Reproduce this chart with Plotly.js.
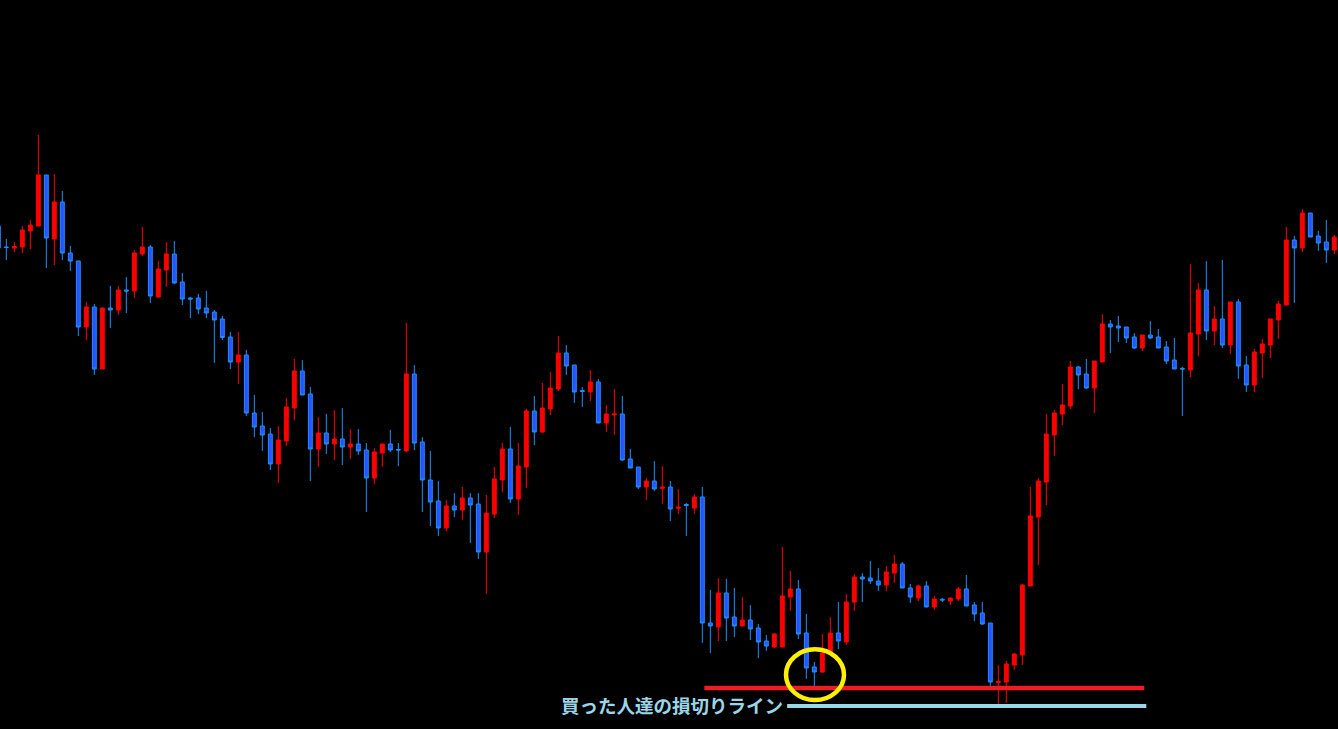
<!DOCTYPE html>
<html>
<head>
<meta charset="utf-8">
<script src="https://cdn.plot.ly/plotly-3.0.1.min.js"></script>
<style>
  html, body { margin: 0; padding: 0; background: #000; }
  #chart { width: 1338px; height: 729px; }
</style>
</head>
<body>
<div id="chart"></div>
<script>
// OHLC values (arbitrary price units)
const openP = [
  503,482,481,482,498,503,554,490,527,476,468,402,422,360,421,419,439,438,475,482,
  432,459,475,447,431,431,421,417,410,392,367,374,316,303,295,265,288,321,358,335,
  280,296,285,290,282,285,279,251,276,285,279.5,278,355,287,249,228,201,223,219,231,
  225,177,215,249,280,230,262,318,297,320,340,376,364,338.5,337,347,306,314,315,270,
  262,242,248,240.7,242,220.7,224.5,221,232,106,102,136,112,103,109,101,88,82,82,132,
  140,96,62,57,76,96,87,127,152,151,148,144,156,165,141,131,143,122,129.7,128,
  130,140,124,116,106,46.5,47,64,74,143,212,247,294,315,323,362,355,341,367,405,
  403,402,392,381,394,392,382,369,360.7,359,395,439,398,410,384,427,364,344,376,384,
  409,424,489,481,516,493,487,479
];
const highP = [
  505,490,487,503,509,594,554,555,538,483,468,427,425,421,443,443,452,479,502,484,
  468,487,488,456,432,435,438,419,413,397,397,379,334,317,301,303,331,370,369,342,
  312,315,319,321,300,300,286,281,285,299,286,406,364,292,278,248,229,236,242,236,
  236,234,262,286,302,286,320,333,346,357,393,384,364,342,359,350,324,340,333,280,
  262,251,268,263,248,240,226,235,242,139,151,150,141,132,124,105,94,96,182,158,
  149,115,67,95,112,127,135,155,156,168,161,163,174,167,145,144,148,133,131,131,
  142,154,127,127,106,64,68,76,145,242,251,315,319,345,368,363,370,368,415,409,
  413,402,396,394,408,400,388,391,362,465,446,468,423,469,427,430,373,380,390,410,
  428,502,493,520,516,498,509,494
];
const lowP = [
  479,469,477,476,480,503,461,464,469,458,393,389,354,360,401,414,416,431,473,426,
  431,442,445,424,411,415,411,366,389,360,345,313,292,278,259,246,283,309,334,248,
  262,275,269,264,270,274,217,245,262,277,263,277,279,217,203,193,198,212,209,186,
  170,135,211,237,226,214,241,284,296,314,338,354,326,322,328,306,297,294,268,261,
  240,229,238,225,208,215,193,215,86,76,88,88,92,103,89,71,78,81,82,118,
  90,50,43,56,76,80,84,118,127,145,138,138,146,141,126,128,122,119,127,124,
  128,123,108,104,43,21,26,59,64,143,164,224,273,304,320,340,340,316,367,376,
  387,386,380,378,390,381,365,360,313,352,373,389,384,381,375,350,337,337,351,371,
  390,424,426,477,492,478,466,475
];
const closeP = [
  481,481.5,482.5,499,504,554,491,527,476,468,402,422,360,421,419,439,438,476,482,433,
  460,475,446,430,430,420,416,409,391.5,367,374,316,302,294,265,289,322,358,334,280,
  296,285,290,282,285,278,251,277,285,279,279,355,286,249,227,201,223,219,231,224,
  177,216,250,280,230,263,318,297,321,341,376,363,337,337.5,347,306,315,315,269,261,
  242,248,240,242,220,221.7,223.5,232,106,103,136,111,103,109,100,87,83,95,133,140,
  95,61,57,76,96,88,127,152,150,148,144,157,165,141,132,143,122,130,129,131,
  140,123,115,105,47,47.5,65,75,144,213,248,295,316,324,362,354,341,368,405,402,
  401,391,381,394,391,381,368,360,360,396,439,398,410,384,427,363,344,377,385,410,
  425,489,481,516,492,486,479,492
];

// Annotation levels (same price units)
const stopLossLevel = 41;       // red line: stop-loss of buyers
const labelLineLevel = 23;      // light-blue label line
const redLineSpan = [87.25, 142.25];
const blueLineSpan = [97.6, 142.5];
const circleSpan = {x: [97.46, 104.71], y: [29, 79.7]};
const labelText = '買った人達の損切りライン';

const xIdx = openP.map((_, i) => i - 1);

const trace = {
  type: 'candlestick',
  x: xIdx,
  open: openP, high: highP, low: lowP, close: closeP,
  increasing: {line: {color: '#FF0000', width: 1}, fillcolor: '#FF0000'},
  decreasing: {line: {color: '#1E90FF', width: 1}, fillcolor: '#2B50FF'},
  whiskerwidth: 0,
  hoverinfo: 'skip'
};

const layout = {
  width: 1338, height: 729,
  margin: {l: 0, r: 0, t: 0, b: 0, pad: 0},
  paper_bgcolor: '#000000',
  plot_bgcolor: '#000000',
  showlegend: false,
  xaxis: {
    range: [-0.79, 166.46], visible: false, showgrid: false, zeroline: false,
    rangeslider: {visible: false}, fixedrange: true
  },
  yaxis: {
    range: [0, 729], visible: false, showgrid: false, zeroline: false, fixedrange: true
  },
  shapes: [
    {type: 'line', xref: 'x', yref: 'y', x0: redLineSpan[0], x1: redLineSpan[1],
     y0: stopLossLevel, y1: stopLossLevel, line: {color: '#EE1C25', width: 4.5}},
    {type: 'line', xref: 'x', yref: 'y', x0: blueLineSpan[0], x1: blueLineSpan[1],
     y0: labelLineLevel, y1: labelLineLevel, line: {color: '#9AD6E8', width: 4}},
    {type: 'circle', xref: 'x', yref: 'y', x0: circleSpan.x[0], x1: circleSpan.x[1],
     y0: circleSpan.y[0], y1: circleSpan.y[1], line: {color: '#FFF000', width: 4.5}}
  ],
  annotations: [
    {xref: 'x', yref: 'y', x: blueLineSpan[0] - 0.25, y: labelLineLevel + 0.7,
     xanchor: 'right', yanchor: 'middle', showarrow: false, text: '<b>' + labelText + '</b>',
     font: {family: '"Noto Sans CJK JP", "Noto Sans", sans-serif', size: 18.5, color: '#9AD6E8'}}
  ]
};

Plotly.newPlot('chart', [trace], layout, {staticPlot: true, displayModeBar: false});
</script>
</body>
</html>
